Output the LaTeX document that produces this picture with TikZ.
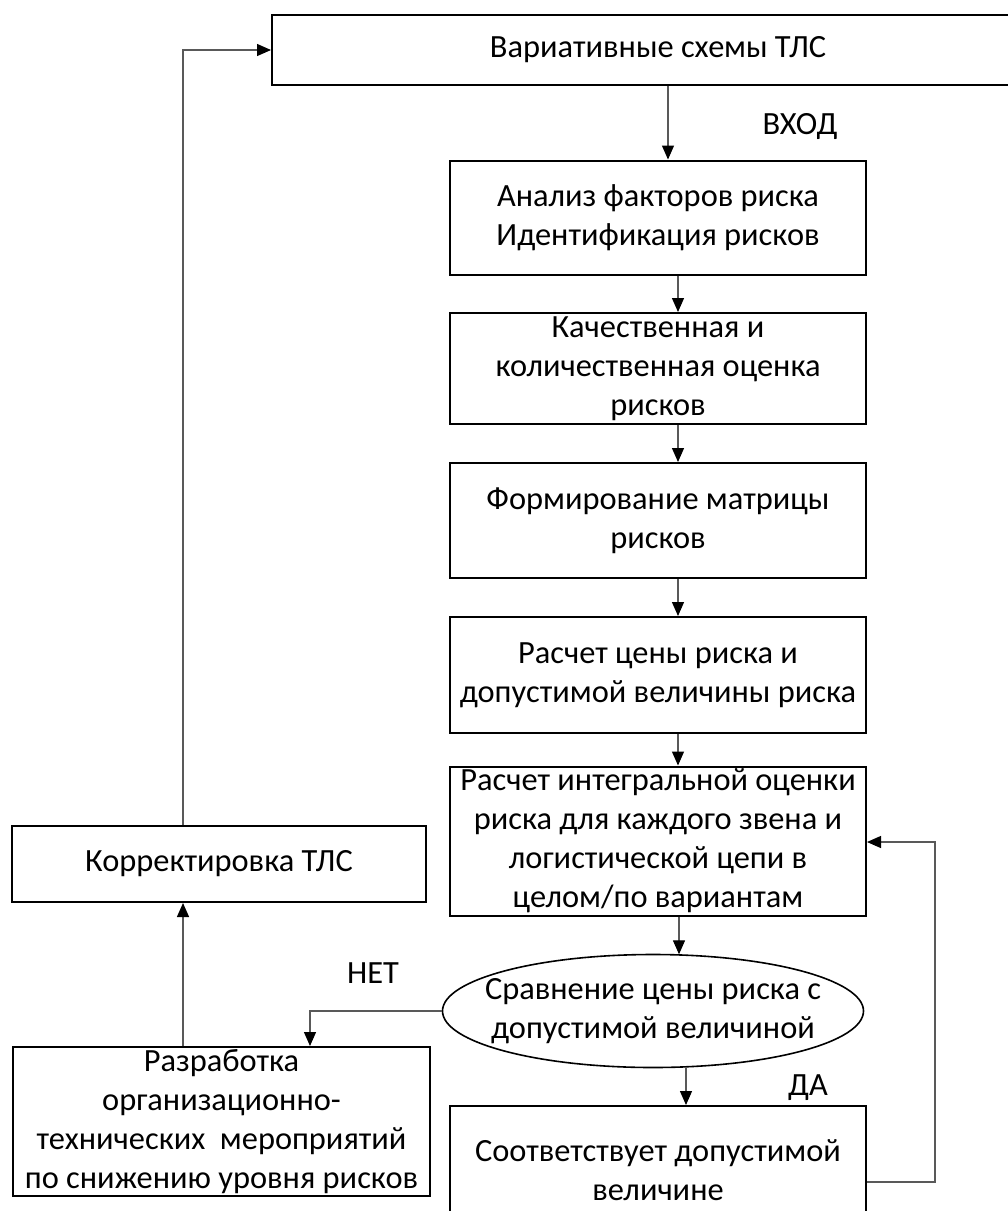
\documentclass[tikz,border=0pt]{standalone}
\usepackage{fontspec}
\setmainfont{Carlito}
\usetikzlibrary{arrows.meta,shapes.geometric}
\begin{document}
\begin{tikzpicture}[x=1pt,y=-1pt,
  box/.style={draw=black,line width=2pt,align=center,inner sep=0pt,
    font=\fontsize{32.4}{39}\selectfont},
  ell/.style={align=center,inner sep=0pt,
    font=\fontsize{32.4}{39}\selectfont},
  lab/.style={font=\fontsize{32.4}{39}\selectfont,inner sep=0pt},
  conn/.style={draw=black!65,line width=1.3pt},
  arr/.style={conn,-{Triangle[length=14pt,width=12pt,fill=black,color=black]}}]
\useasboundingbox (0,0) rectangle (1008,1211);
\clip (0,0) rectangle (1008,1211);
\fill[white] (0,0) rectangle (1008,1211);
% nodes
\node[box,minimum width=772pt,minimum height=70pt] (top) at (658,50) {Вариативные схемы ТЛС};
\node[box,minimum width=416pt,minimum height=114pt] (b2) at (658,217.5) {Анализ факторов риска\\Идентификация рисков};
\node[box,minimum width=416pt,minimum height=111pt] (b3) at (658,368.5) {Качественная и\\количественная оценка\\рисков};
\node[box,minimum width=416pt,minimum height=115pt] (b4) at (658,520.5) {Формирование матрицы\\рисков};
\node[box,minimum width=416pt,minimum height=116pt] (b5) at (658,675) {Расчет цены риска и\\допустимой величины риска};
\node[box,minimum width=416pt,minimum height=149pt] (b6) at (658,841) {Расчет интегральной оценки\\риска для каждого звена и\\логистической цепи в\\целом/по вариантам};
\node[ell,minimum width=421pt,minimum height=113pt] (e) at (653,1011) {Сравнение цены риска с\\допустимой величиной};
\draw[black,line width=1.6pt] (e.center) ellipse [x radius=210.5pt,y radius=56.5pt];
\node[box,minimum width=416pt,minimum height=128pt] (b7) at (658,1170) {Соответствует допустимой\\величине};
\node[box,minimum width=414pt,minimum height=76pt] (kor) at (219,864) {Корректировка ТЛС};
\node[box,minimum width=417pt,minimum height=149pt] (raz) at (221.5,1121.5) {Разработка\\организационно-\\технических \ мероприятий\\по снижению уровня рисков};
% labels
\node[lab] (vhod) at (800,127) {ВХОД};
\node[lab] (net) at (373,973) {НЕТ};
\node[lab] (da) at (808,1088) {ДА};
% connectors
\coordinate (c1) at ([xshift=10pt]top.south);
\draw[arr] (c1) -- (c1 |- b2.north);
\coordinate (c2) at ([xshift=20pt]b2.south);
\draw[arr] (c2) -- (c2 |- b3.north);
\coordinate (c3) at ([xshift=20pt]b3.south);
\draw[arr] (c3) -- (c3 |- b4.north);
\coordinate (c4) at ([xshift=20pt]b4.south);
\draw[arr] (c4) -- (c4 |- b5.north);
\coordinate (c5) at ([xshift=20pt]b5.south);
\draw[arr] (c5) -- (c5 |- b6.north);
\coordinate (c6) at ([xshift=21pt]b6.south);
\draw[arr] (c6) -- (c6 |- e.north);
\coordinate (c7) at ([xshift=33pt]e.south);
\draw[arr] (c7) -- (c7 |- b7.north);
% feedback from b7 to b6
\coordinate (f1) at ([yshift=-12pt]b7.east);
\coordinate (f2) at ([xshift=68pt]f1);
\coordinate (f3) at ([yshift=-1pt]b6.east);
\draw[arr] (f1) -- (f2) -- (f2 |- f3) -- (f3);
% NO branch
\coordinate (n1) at ([xshift=88.5pt]raz.north);
\draw[arr] (e.west) -- (n1 |- e.west) -- (n1);
% raz -> kor
\coordinate (r1) at ([xshift=-38.5pt]raz.north);
\draw[arr] (r1) -- (r1 |- kor.south);
% kor -> top
\coordinate (k1) at ([xshift=-36pt]kor.north);
\draw[arr] (k1) -- (k1 |- top.west) -- (top.west);
\end{tikzpicture}
\end{document}
